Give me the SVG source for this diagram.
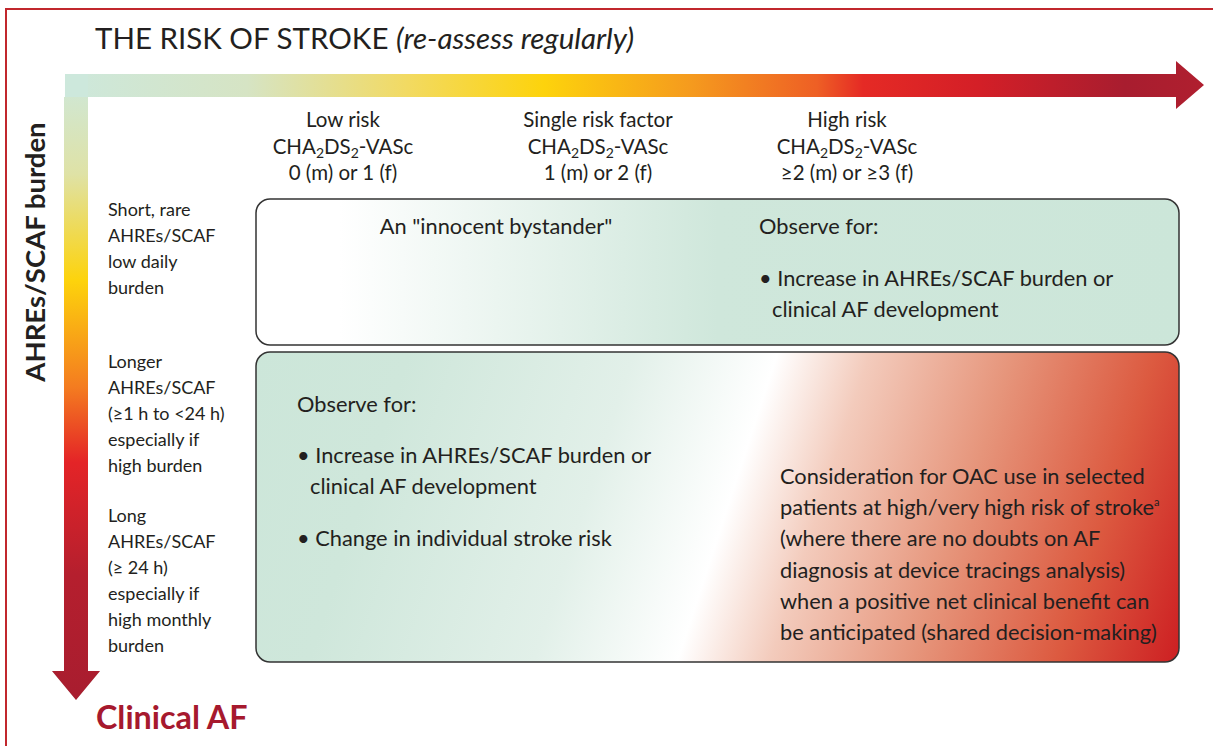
<svg xmlns="http://www.w3.org/2000/svg" width="1213" height="746" viewBox="0 0 1213 746">
<defs>
<style>
text{font-family:Lato,"Liberation Sans",sans-serif;fill:#231f20}
.title{font-size:29.5px}
.hdr{font-size:20.5px;text-anchor:middle}
.row{font-size:18px}
.body{font-size:21.8px}
.box{stroke:#333;stroke-width:1.5}
</style>
<linearGradient id="hgrad" gradientUnits="userSpaceOnUse" x1="65" y1="0" x2="1205" y2="0">
<stop offset="0" stop-color="#cde8dc"/>
<stop offset="0.16" stop-color="#d6e4c4"/>
<stop offset="0.3" stop-color="#f2da62"/>
<stop offset="0.42" stop-color="#fdd30c"/>
<stop offset="0.55" stop-color="#f59a1e"/>
<stop offset="0.66" stop-color="#ee5f25"/>
<stop offset="0.7" stop-color="#e52a25"/>
<stop offset="0.8" stop-color="#d41f27"/>
<stop offset="0.93" stop-color="#a81d2f"/>
<stop offset="1" stop-color="#b01f2f"/>
</linearGradient>
<linearGradient id="vgrad" gradientUnits="userSpaceOnUse" x1="0" y1="74" x2="0" y2="700">
<stop offset="0" stop-color="#cde8dc"/>
<stop offset="0.16" stop-color="#dfe2a6"/>
<stop offset="0.33" stop-color="#fdd30c"/>
<stop offset="0.5" stop-color="#f47c20"/>
<stop offset="0.62" stop-color="#e42427"/>
<stop offset="0.8" stop-color="#b51f2e"/>
<stop offset="1" stop-color="#a81d2f"/>
</linearGradient>
<linearGradient id="g1" gradientUnits="userSpaceOnUse" x1="256" y1="0" x2="1179" y2="0">
<stop offset="0" stop-color="#ffffff"/>
<stop offset="0.09" stop-color="#ffffff"/>
<stop offset="0.33" stop-color="#e3f1ea"/>
<stop offset="0.5" stop-color="#cfe7db"/>
<stop offset="1" stop-color="#cce6d9"/>
</linearGradient>
<linearGradient id="g2" gradientUnits="userSpaceOnUse" x1="370" y1="0" x2="1394" y2="0" gradientTransform="skewX(-18)">
<stop offset="0" stop-color="#cce6d9"/>
<stop offset="0.15" stop-color="#cfe7db"/>
<stop offset="0.37" stop-color="#e2f0e9"/>
<stop offset="0.51" stop-color="#ffffff"/>
<stop offset="0.6" stop-color="#f3cbbc"/>
<stop offset="0.74" stop-color="#e6957b"/>
<stop offset="0.88" stop-color="#dc5a40"/>
<stop offset="1" stop-color="#cd1f22"/>
</linearGradient>
</defs>
<rect x="6" y="9" width="1230" height="760" fill="none" stroke="#c1272d" stroke-width="2"/>
<g id="title">
<text class="title" x="95" y="49">THE RISK OF STROKE <tspan font-style="italic">(re-assess regularly)</tspan></text>
</g>
<g id="axes">
<path d="M65,74 H1176 V61 L1204,85 L1176,109 V97 H88 V671 H100 L76,700 L52,671 H64 Z" fill="url(#hgrad)"/>
<path d="M64,97 H88 V671 H100 L76,700 L52,671 H64 Z" fill="url(#vgrad)"/>
<path d="M65,74 H88 V97 H65 Z" fill="#cde8dc"/>
</g>
<g id="y-axis-label">
<text transform="translate(45,252) rotate(-90)" text-anchor="middle" font-size="27.5" font-weight="bold">AHREs/SCAF burden</text>
</g>
<g id="clinical-af">
<text x="96" y="729" font-size="32.3" font-weight="bold" style="fill:#a6192e">Clinical AF</text>
</g>
<g id="col-low">
<text class="hdr" x="343" y="127">Low risk</text>
<text class="hdr" x="343" y="154">CHA<tspan font-size="14" dy="4">2</tspan><tspan dy="-4">DS</tspan><tspan font-size="14" dy="4">2</tspan><tspan dy="-4">-VASc</tspan></text>
<text class="hdr" x="343" y="180">0 (m) or 1 (f)</text>
</g>
<g id="col-single">
<text class="hdr" x="598" y="127">Single risk factor</text>
<text class="hdr" x="598" y="154">CHA<tspan font-size="14" dy="4">2</tspan><tspan dy="-4">DS</tspan><tspan font-size="14" dy="4">2</tspan><tspan dy="-4">-VASc</tspan></text>
<text class="hdr" x="598" y="180">1 (m) or 2 (f)</text>
</g>
<g id="col-high">
<text class="hdr" x="847" y="127">High risk</text>
<text class="hdr" x="847" y="154">CHA<tspan font-size="14" dy="4">2</tspan><tspan dy="-4">DS</tspan><tspan font-size="14" dy="4">2</tspan><tspan dy="-4">-VASc</tspan></text>
<text class="hdr" x="847" y="180">≥2 (m) or ≥3 (f)</text>
</g>
<g id="row-short">
<text class="row" x="108" y="216">Short, rare</text>
<text class="row" x="108" y="242">AHREs/SCAF</text>
<text class="row" x="108" y="268">low daily</text>
<text class="row" x="108" y="294">burden</text>
</g>
<g id="row-longer">
<text class="row" x="108" y="368">Longer</text>
<text class="row" x="108" y="394">AHREs/SCAF</text>
<text class="row" x="108" y="420">(≥1 h to &lt;24 h)</text>
<text class="row" x="108" y="446">especially if</text>
<text class="row" x="108" y="472">high burden</text>
</g>
<g id="row-long">
<text class="row" x="108" y="522">Long</text>
<text class="row" x="108" y="548">AHREs/SCAF</text>
<text class="row" x="108" y="574">(≥ 24 h)</text>
<text class="row" x="108" y="600">especially if</text>
<text class="row" x="108" y="626">high monthly</text>
<text class="row" x="108" y="652">burden</text>
</g>
<g id="box-short">
<rect class="box" x="256" y="199" width="923" height="146" rx="14" fill="url(#g1)"/>
<text class="body" x="496" y="234" text-anchor="middle">An "innocent bystander"</text>
<text class="body" x="759" y="234">Observe for:</text>
<text class="body" x="759" y="286">• Increase in AHREs/SCAF burden or</text>
<text class="body" x="772" y="317">clinical AF development</text>
</g>
<g id="box-long">
<rect class="box" x="256" y="352" width="923" height="310" rx="14" fill="url(#g2)"/>
<text class="body" x="297" y="412">Observe for:</text>
<text class="body" x="297" y="463">• Increase in AHREs/SCAF burden or</text>
<text class="body" x="310" y="494">clinical AF development</text>
<text class="body" x="297" y="546">• Change in individual stroke risk</text>
<text class="body" x="780" y="484">Consideration for OAC use in selected</text>
<text class="body" x="780" y="515">patients at high/very high risk of stroke<tspan font-size="11" dy="-9">a</tspan></text>
<text class="body" x="780" y="546">(where there are no doubts on AF</text>
<text class="body" x="780" y="578">diagnosis at device tracings analysis)</text>
<text class="body" x="780" y="609">when a positive net clinical benefit can</text>
<text class="body" x="780" y="640">be anticipated (shared decision-making)</text>
</g>
</svg>
